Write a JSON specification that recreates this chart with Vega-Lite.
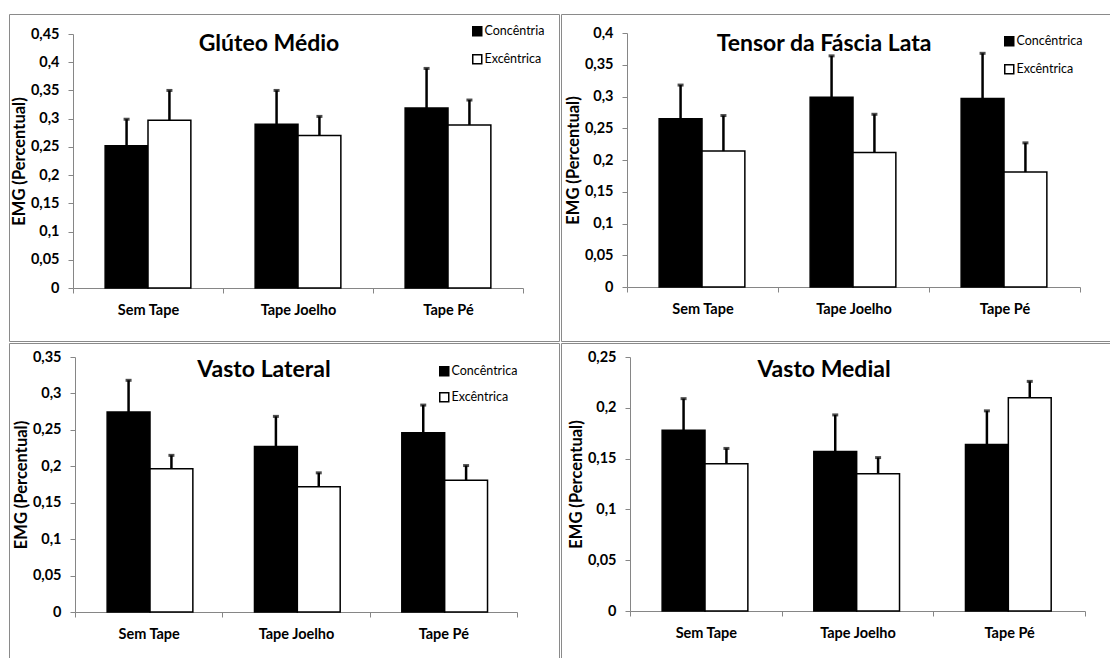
{
  "$schema": "https://vega.github.io/schema/vega-lite/v6.json",
  "padding": {"left": 8, "top": 13, "right": 0, "bottom": 0},
  "background": "white",
  "spacing": 0,
  "data": {"values": [
    {"panel": "GM", "cond": "Sem Tape", "series": "Concêntrica", "value": 0.252, "upper": 0.299},
    {"panel": "GM", "cond": "Sem Tape", "series": "Excêntrica", "value": 0.297, "upper": 0.350},
    {"panel": "GM", "cond": "Tape Joelho", "series": "Concêntrica", "value": 0.290, "upper": 0.350},
    {"panel": "GM", "cond": "Tape Joelho", "series": "Excêntrica", "value": 0.270, "upper": 0.304},
    {"panel": "GM", "cond": "Tape Pé", "series": "Concêntrica", "value": 0.319, "upper": 0.389},
    {"panel": "GM", "cond": "Tape Pé", "series": "Excêntrica", "value": 0.289, "upper": 0.333},
    {"panel": "TFL", "cond": "Sem Tape", "series": "Concêntrica", "value": 0.265, "upper": 0.318},
    {"panel": "TFL", "cond": "Sem Tape", "series": "Excêntrica", "value": 0.214, "upper": 0.270},
    {"panel": "TFL", "cond": "Tape Joelho", "series": "Concêntrica", "value": 0.299, "upper": 0.364},
    {"panel": "TFL", "cond": "Tape Joelho", "series": "Excêntrica", "value": 0.212, "upper": 0.272},
    {"panel": "TFL", "cond": "Tape Pé", "series": "Concêntrica", "value": 0.297, "upper": 0.368},
    {"panel": "TFL", "cond": "Tape Pé", "series": "Excêntrica", "value": 0.181, "upper": 0.227},
    {"panel": "VL", "cond": "Sem Tape", "series": "Concêntrica", "value": 0.2745, "upper": 0.318},
    {"panel": "VL", "cond": "Sem Tape", "series": "Excêntrica", "value": 0.1966, "upper": 0.215},
    {"panel": "VL", "cond": "Tape Joelho", "series": "Concêntrica", "value": 0.227, "upper": 0.2685},
    {"panel": "VL", "cond": "Tape Joelho", "series": "Excêntrica", "value": 0.172, "upper": 0.191},
    {"panel": "VL", "cond": "Tape Pé", "series": "Concêntrica", "value": 0.246, "upper": 0.284},
    {"panel": "VL", "cond": "Tape Pé", "series": "Excêntrica", "value": 0.181, "upper": 0.201},
    {"panel": "VM", "cond": "Sem Tape", "series": "Concêntrica", "value": 0.178, "upper": 0.209},
    {"panel": "VM", "cond": "Sem Tape", "series": "Excêntrica", "value": 0.145, "upper": 0.160},
    {"panel": "VM", "cond": "Tape Joelho", "series": "Concêntrica", "value": 0.157, "upper": 0.193},
    {"panel": "VM", "cond": "Tape Joelho", "series": "Excêntrica", "value": 0.135, "upper": 0.151},
    {"panel": "VM", "cond": "Tape Pé", "series": "Concêntrica", "value": 0.164, "upper": 0.197},
    {"panel": "VM", "cond": "Tape Pé", "series": "Excêntrica", "value": 0.210, "upper": 0.226}
  ]},
  "resolve": {"scale": {"fill": "independent"}, "legend": {"fill": "independent"}},
  "vconcat": [
    {
      "spacing": 0,
      "resolve": {"scale": {"fill": "independent"}, "legend": {"fill": "independent"}},
      "hconcat": [
        {
          "width": 550, "height": 327,
          "transform": [{"filter": "datum.panel == 'GM'"}],
          "title": {"text": "Glúteo Médio", "offset": -60, "baseline": "alphabetic", "dx": -15, "anchor": "middle", "frame": "group"},
          "encoding": {
            "x": {"field": "cond", "type": "nominal", "sort": ["Sem Tape", "Tape Joelho", "Tape Pé"], "title": null,
                  "scale": {"range": [64, 514], "paddingInner": 0, "paddingOuter": 0},
                  "axis": {"offset": -53}},
            "xOffset": {"field": "series", "type": "nominal", "sort": ["Concêntrica", "Excêntrica"], "scale": {"paddingInner": 0, "paddingOuter": 0.75}},
            "y": {"field": "value", "type": "quantitative", "title": "EMG (Percentual)",
                  "scale": {"domain": [0, 0.45], "range": [274, 20], "nice": false, "zero": true},
                  "axis": {"offset": -64, "values": [0, 0.05, 0.1, 0.15, 0.2, 0.25, 0.3, 0.35, 0.4, 0.45]}}
          },
          "layer": [
            {"mark": {"type": "bar", "stroke": "black", "strokeWidth": 1.5},
             "encoding": {
               "fill": {"field": "series", "type": "nominal", "scale": {"domain": ["Concêntrica", "Excêntrica"], "range": ["black", "white"]},
                        "legend": {"orient": "none", "legendX": 462, "legendY": 11, "labelExpr": "datum.label == 'Concêntrica' ? 'Concêntria' : datum.label"}}
             }},
            {"mark": {"type": "rule", "color": "black", "strokeWidth": 2.5},
             "encoding": {"y2": {"field": "upper"}}},
            {"mark": {"type": "tick", "color": "black", "size": 6, "thickness": 3},
             "encoding": {"y": {"field": "upper", "type": "quantitative", "title": "EMG (Percentual)",
                  "axis": {"offset": -64, "values": [0, 0.05, 0.1, 0.15, 0.2, 0.25, 0.3, 0.35, 0.4, 0.45]}}}}
          ]
        },
        {
          "width": 560, "height": 327,
          "transform": [{"filter": "datum.panel == 'TFL'"}],
          "title": {"text": "Tensor da Fáscia Lata", "offset": -60, "baseline": "alphabetic", "dx": -17, "anchor": "middle", "frame": "group"},
          "encoding": {
            "x": {"field": "cond", "type": "nominal", "sort": ["Sem Tape", "Tape Joelho", "Tape Pé"], "title": null,
                  "scale": {"range": [66, 519], "paddingInner": 0, "paddingOuter": 0},
                  "axis": {"offset": -54}},
            "xOffset": {"field": "series", "type": "nominal", "sort": ["Concêntrica", "Excêntrica"], "scale": {"paddingInner": 0, "paddingOuter": 0.75}},
            "y": {"field": "value", "type": "quantitative", "title": "EMG (Percentual)",
                  "scale": {"domain": [0, 0.4], "range": [273, 19], "nice": false, "zero": true},
                  "axis": {"offset": -66, "values": [0, 0.05, 0.1, 0.15, 0.2, 0.25, 0.3, 0.35, 0.4]}}
          },
          "layer": [
            {"mark": {"type": "bar", "stroke": "black", "strokeWidth": 1.5},
             "encoding": {
               "fill": {"field": "series", "type": "nominal", "scale": {"domain": ["Concêntrica", "Excêntrica"], "range": ["black", "white"]},
                        "legend": {"orient": "none", "legendX": 442, "legendY": 21}}
             }},
            {"mark": {"type": "rule", "color": "black", "strokeWidth": 2.5},
             "encoding": {"y2": {"field": "upper"}}},
            {"mark": {"type": "tick", "color": "black", "size": 6, "thickness": 3},
             "encoding": {"y": {"field": "upper", "type": "quantitative", "title": "EMG (Percentual)",
                  "axis": {"offset": -66, "values": [0, 0.05, 0.1, 0.15, 0.2, 0.25, 0.3, 0.35, 0.4]}}}}
          ]
        }
      ]
    },
    {
      "spacing": 0,
      "resolve": {"scale": {"fill": "independent"}, "legend": {"fill": "independent"}},
      "hconcat": [
        {
          "width": 550, "height": 320,
          "transform": [{"filter": "datum.panel == 'VL'"}],
          "title": {"text": "Vasto Lateral", "offset": -57, "baseline": "alphabetic", "dx": -20, "anchor": "middle", "frame": "group"},
          "encoding": {
            "x": {"field": "cond", "type": "nominal", "sort": ["Sem Tape", "Tape Joelho", "Tape Pé"], "title": null,
                  "scale": {"range": [66, 508], "paddingInner": 0, "paddingOuter": 0},
                  "axis": {"offset": -51}},
            "xOffset": {"field": "series", "type": "nominal", "sort": ["Concêntrica", "Excêntrica"], "scale": {"paddingInner": 0, "paddingOuter": 0.75}},
            "y": {"field": "value", "type": "quantitative", "title": "EMG (Percentual)",
                  "scale": {"domain": [0, 0.35], "range": [269, 14], "nice": false, "zero": true},
                  "axis": {"offset": -66, "values": [0, 0.05, 0.1, 0.15, 0.2, 0.25, 0.3, 0.35]}}
          },
          "layer": [
            {"mark": {"type": "bar", "stroke": "black", "strokeWidth": 1.5},
             "encoding": {
               "fill": {"field": "series", "type": "nominal", "scale": {"domain": ["Concêntrica", "Excêntrica"], "range": ["black", "white"]},
                        "legend": {"orient": "none", "legendX": 429, "legendY": 22, "rowPadding": 10}}
             }},
            {"mark": {"type": "rule", "color": "black", "strokeWidth": 2.5},
             "encoding": {"y2": {"field": "upper"}}},
            {"mark": {"type": "tick", "color": "black", "size": 6, "thickness": 3},
             "encoding": {"y": {"field": "upper", "type": "quantitative", "title": "EMG (Percentual)",
                  "axis": {"offset": -66, "values": [0, 0.05, 0.1, 0.15, 0.2, 0.25, 0.3, 0.35]}}}}
          ]
        },
        {
          "width": 560, "height": 320,
          "transform": [{"filter": "datum.panel == 'VM'"}],
          "title": {"text": "Vasto Medial", "offset": -57, "baseline": "alphabetic", "dx": -17, "anchor": "middle", "frame": "group"},
          "encoding": {
            "x": {"field": "cond", "type": "nominal", "sort": ["Sem Tape", "Tape Joelho", "Tape Pé"], "title": null,
                  "scale": {"range": [69, 524], "paddingInner": 0, "paddingOuter": 0},
                  "axis": {"offset": -52}},
            "xOffset": {"field": "series", "type": "nominal", "sort": ["Concêntrica", "Excêntrica"], "scale": {"paddingInner": 0, "paddingOuter": 0.75}},
            "y": {"field": "value", "type": "quantitative", "title": "EMG (Percentual)",
                  "scale": {"domain": [0, 0.25], "range": [268, 14], "nice": false, "zero": true},
                  "axis": {"offset": -69, "values": [0, 0.05, 0.1, 0.15, 0.2, 0.25]}}
          },
          "layer": [
            {"mark": {"type": "bar", "stroke": "black", "strokeWidth": 1.5},
             "encoding": {
               "fill": {"field": "series", "type": "nominal", "scale": {"domain": ["Concêntrica", "Excêntrica"], "range": ["black", "white"]},
                        "legend": null}
             }},
            {"mark": {"type": "rule", "color": "black", "strokeWidth": 2.5},
             "encoding": {"y2": {"field": "upper"}}},
            {"mark": {"type": "tick", "color": "black", "size": 6, "thickness": 3},
             "encoding": {"y": {"field": "upper", "type": "quantitative", "title": "EMG (Percentual)",
                  "axis": {"offset": -69, "values": [0, 0.05, 0.1, 0.15, 0.2, 0.25]}}}}
          ]
        }
      ]
    }
  ],
  "config": {
    "font": "Lato",
    "view": {"stroke": "#8a8a8a", "strokeWidth": 1},
    "title": {"font": "Lato", "fontSize": 23, "fontWeight": "bold", "color": "black"},
    "axis": {
      "grid": false, "domainColor": "#868686", "tickColor": "#868686", "tickSize": 5,
      "labelFont": "Lato", "labelFontWeight": "bold", "labelColor": "black", "labelFontSize": 14.5,
      "titleFont": "Lato", "titleFontWeight": "bold", "titleColor": "black", "titleFontSize": 16.5,
      "labelOverlap": false, "labelFlush": false
    },
    "axisX": {"tickBand": "extent", "labelPadding": 10, "labelAngle": 0, "ticks": true},
    "axisY": {"labelPadding": 9, "titlePadding": 3, "labelExpr": "replace(format(datum.value, '~g'), '.', ',')"},
    "legend": {
      "title": null, "padding": 0, "symbolType": "square", "symbolSize": 81,
      "symbolStrokeColor": "black", "symbolStrokeWidth": 1.5,
      "labelFont": "Lato", "labelFontSize": 12.5, "labelColor": "black", "labelOffset": 1, "rowPadding": 12
    }
  }
}
